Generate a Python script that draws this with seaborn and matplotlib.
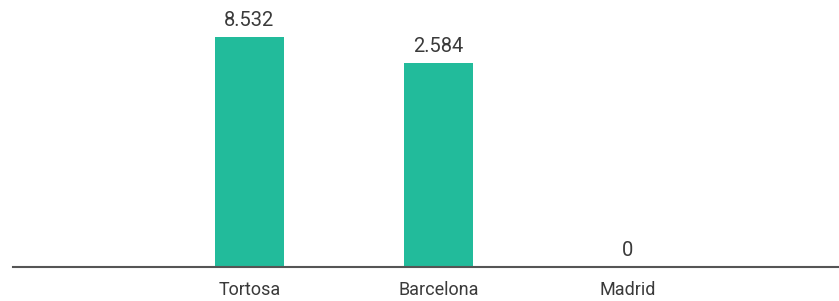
import matplotlib
matplotlib.use("Agg")
import matplotlib.pyplot as plt
import seaborn as sns
import pandas as pd

cities = ["Tortosa", "Barcelona", "Madrid"]
values = [8532, 2584, 0]
labels = ["8.532", "2.584", "0"]

df = pd.DataFrame({"city": cities, "value": values})

sns.set_style("white")
plt.rcParams["font.family"] = ["Roboto", "DejaVu Sans"]

fig = plt.figure(figsize=(8.39, 3.01), dpi=100)
ax = fig.add_axes([13 / 839, 34 / 301, 826 / 839, 267 / 301])

sns.barplot(data=df, x="city", y="value", color="#22BB9B", width=0.365,
            saturation=1, linewidth=0, ax=ax)

# uneven bar heights in the source -> log axis
ax.set_yscale("log")
ax.set_ylim(0.22, 46700)
ax.set_xlim(-1.25, 3.12)

for i, (v, lab) in enumerate(zip(values, labels)):
    y = v if v > 0 else 0.22
    ax.annotate(lab, (i, y), xytext=(0, 5), textcoords="offset points",
                ha="center", va="bottom", fontsize=14.5, color="#3a3a3a")

for s in ["top", "right", "left"]:
    ax.spines[s].set_visible(False)
ax.spines["bottom"].set_color("#555555")
ax.spines["bottom"].set_linewidth(1.5)

ax.set_yticks([])
ax.minorticks_off()
ax.set_ylabel("")
ax.set_xlabel("")
ax.tick_params(axis="x", length=0, pad=10, labelsize=13, labelcolor="#3a3a3a")

fig.savefig("out.png", dpi=100)
